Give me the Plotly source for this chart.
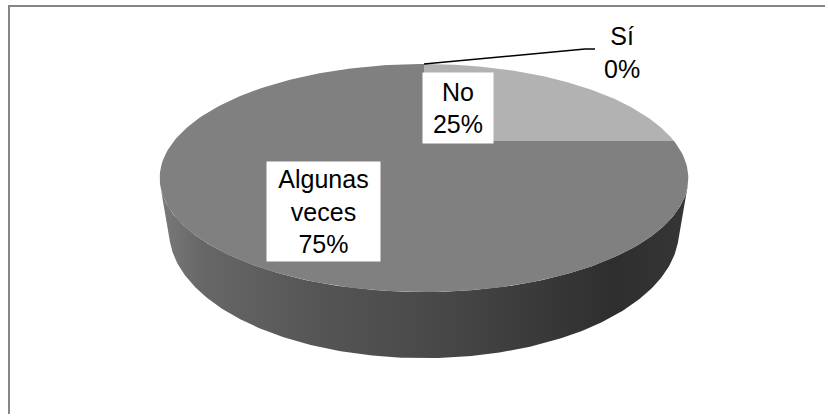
import numpy as np
import plotly.graph_objects as go

# ---------------- data ----------------
categories = ["Sí", "No", "Algunas veces"]
values = [0, 25, 75]
top_colors = ["#d0d0d0", "#b2b2b2", "#808080"]
side_scale = [[0.0, "#7a7a7a"], [0.08, "#676767"], [0.3, "#555555"],
              [0.5, "#4a4a4a"], [0.7, "#3b3b3b"], [0.86, "#2e2e2e"],
              [1.0, "#363636"]]

# ---------------- geometry (pixel space) ----------------
W, HPX = 828, 417
CX, CY = 424.0, 141.0      # projected centre of the top face
A_PX, B_PX = 250.0, 102.0  # unit-radius half axes at centre depth
K = 0.3246                 # perspective strength
alpha = np.arcsin(B_PX / A_PX)
D = np.cos(alpha) / K
F = A_PX * D
THICK = 0.227


def proj(X, Y, Z):
    depth = D + Y * np.cos(alpha) - Z * np.sin(alpha)
    up = Y * np.sin(alpha) + Z * np.cos(alpha)
    return CX + F * X / depth, CY - F * up / depth


def rim(t0, t1, z, n=200):
    th = np.radians(np.linspace(t0, t1, n))
    return proj(np.sin(th), np.cos(th), z)


total = float(sum(values))
fracs = [v / total for v in values]
starts = np.concatenate([[0.0], np.cumsum(fracs)[:-1]]) * 360.0
ends = np.cumsum(fracs) * 360.0

c0 = 1.0 / (D * np.cos(alpha))
vis0 = np.degrees(np.arccos(-c0))
vis1 = 360.0 - vis0

fig = go.Figure()

# chart frame (only the top and left edges fall inside the picture)
fig.add_trace(go.Scatter(x=[9, 9, W - 3], y=[HPX - 3, 6, 6], mode="lines",
                         line=dict(color="#868686", width=2),
                         hoverinfo="skip", showlegend=False))

# side walls (front, visible part)
for cat, t0, t1 in zip(categories, starts, ends):
    a0, a1 = max(t0, vis0), min(t1, vis1)
    if a1 <= a0:
        continue
    xt, yt = rim(a0, a1, 0.0)
    xb, yb = rim(a1, a0, -THICK)
    fig.add_trace(go.Scatter(
        x=np.concatenate([xt, xb, xt[:1]]), y=np.concatenate([yt, yb, yt[:1]]),
        mode="lines", line=dict(width=0), fill="toself",
        fillgradient=dict(type="horizontal", colorscale=side_scale),
        hoverinfo="skip", showlegend=False))

# top faces
for cat, t0, t1, col in zip(categories, starts, ends, top_colors):
    if t1 - t0 <= 0:
        continue
    xa, ya = rim(t0, t1, 0.0)
    fig.add_trace(go.Scatter(
        x=np.concatenate([[CX], xa, [CX]]), y=np.concatenate([[CY], ya, [CY]]),
        mode="lines", line=dict(width=0), fill="toself", fillcolor=col,
        name=cat, hoverinfo="name", showlegend=False))

pcts = [round(f * 100) for f in fracs]
FONT = dict(family="Liberation Sans, Arial, sans-serif", size=25, color="#000000")

# label for "Sí" with leader line from its slice position
mid_si = np.radians((starts[0] + ends[0]) / 2)
sx, sy = proj(np.sin(mid_si), np.cos(mid_si), 0.0)
fig.add_trace(go.Scatter(x=[sx, 585, 595], y=[sy, 49, 49], mode="lines",
                         line=dict(color="#000000", width=1.5),
                         hoverinfo="skip", showlegend=False))

fig.add_annotation(x=622, y=52, xref="x", yref="y", showarrow=False,
                   text=f"{categories[0]}<br>{pcts[0]}%", font=FONT, borderpad=0)
fig.add_annotation(x=458, y=108, xref="x", yref="y", showarrow=False,
                   text=f"{categories[1]}<br>{pcts[1]}%", font=FONT,
                   bgcolor="#ffffff", width=70, height=70, borderpad=0)
fig.add_annotation(x=323.5, y=211.5, xref="x", yref="y", showarrow=False,
                   text="<br>".join(categories[2].split(" ")) + f"<br>{pcts[2]}%",
                   font=FONT, bgcolor="#ffffff", width=113, height=99, borderpad=0)

fig.update_layout(
    width=W, height=HPX, autosize=False,
    margin=dict(l=0, r=0, t=0, b=0, pad=0),
    paper_bgcolor="#ffffff", plot_bgcolor="#ffffff",
    xaxis=dict(range=[0, W], visible=False, fixedrange=True),
    yaxis=dict(range=[HPX, 0], visible=False, fixedrange=True),
    showlegend=False,
)

fig.write_html(
    "out.html",
    config={"displayModeBar": False},
    post_script="document.body.style.margin='0';document.body.style.padding='0';"
                "document.body.style.overflow='hidden';",
)
